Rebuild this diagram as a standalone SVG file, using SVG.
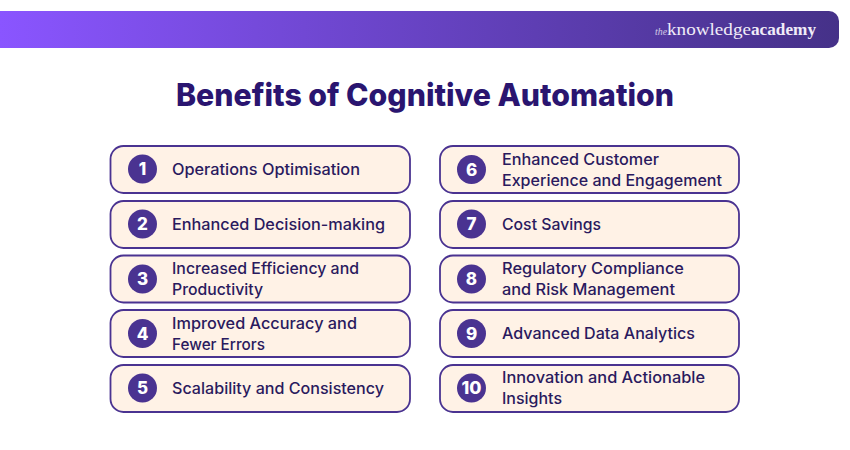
<svg xmlns="http://www.w3.org/2000/svg" width="850" height="450" viewBox="0 0 850 450">
<style>
.box{fill:#fff2e6;stroke:#4a3391;stroke-width:1.8}
.dot{fill:#4a3391}
.num{font:800 17px Inter,"Liberation Sans",sans-serif;fill:#fff;text-anchor:middle}
.t{font:500 15.500px Inter,"Liberation Sans",sans-serif;fill:#2a1a5e}
.title{font:800 31.500px Inter,"Liberation Sans",sans-serif;fill:#2a1570}
.logo{font-family:"Liberation Serif",serif;fill:#f0ecf8}
</style>
<defs><linearGradient id="g" x1="0" x2="1" y1="0" y2="0"><stop offset="0" stop-color="#8a55ff"/><stop offset="1" stop-color="#453188"/></linearGradient></defs>
<g id="banner"><path d="M0 11H829a10 10 0 0 1 10 10V38a10 10 0 0 1-10 10H0Z" fill="url(#g)"/>
<text class="logo" x="655" y="35" font-size="11" font-style="italic" textLength="12" lengthAdjust="spacingAndGlyphs" opacity=".8">the</text>
<text class="logo" x="667" y="35" font-size="17" textLength="84" lengthAdjust="spacingAndGlyphs">knowledge</text>
<text class="logo" x="751" y="35" font-size="17" font-weight="700" textLength="65" lengthAdjust="spacingAndGlyphs">academy</text></g>
<text id="title" class="title" x="176" y="105.500" textLength="498" lengthAdjust="spacingAndGlyphs">Benefits of Cognitive Automation</text>
<g id="n1"><rect class="box" x="110.500" y="146" width="299.500" height="47" rx="13"/><circle class="dot" cx="142.500" cy="169" r="14.500"/><text class="num" x="142.500" y="175">1</text><text class="t" x="172" y="174.500" textLength="188" lengthAdjust="spacingAndGlyphs">Operations Optimisation</text></g>
<g id="n2"><rect class="box" x="110.500" y="201" width="299.500" height="47" rx="13"/><circle class="dot" cx="142.500" cy="224" r="14.500"/><text class="num" x="142.500" y="230">2</text><text class="t" x="172" y="229.500" textLength="213" lengthAdjust="spacingAndGlyphs">Enhanced Decision-making</text></g>
<g id="n3"><rect class="box" x="110.500" y="255.500" width="299.500" height="47" rx="13"/><circle class="dot" cx="142.500" cy="279" r="14.500"/><text class="num" x="142.500" y="285">3</text><text class="t" x="172" y="273.500" textLength="187" lengthAdjust="spacingAndGlyphs">Increased Efficiency and</text><text class="t" x="172" y="294.500" textLength="91" lengthAdjust="spacingAndGlyphs">Productivity</text></g>
<g id="n4"><rect class="box" x="110.500" y="310" width="299.500" height="47" rx="13"/><circle class="dot" cx="142.500" cy="333.500" r="14.500"/><text class="num" x="142.500" y="339.500">4</text><text class="t" x="172" y="328.500" textLength="185" lengthAdjust="spacingAndGlyphs">Improved Accuracy and</text><text class="t" x="172" y="349.500" textLength="93" lengthAdjust="spacingAndGlyphs">Fewer Errors</text></g>
<g id="n5"><rect class="box" x="110.500" y="365" width="299.500" height="47" rx="13"/><circle class="dot" cx="142.500" cy="388" r="14.500"/><text class="num" x="142.500" y="394">5</text><text class="t" x="172" y="393.500" textLength="212" lengthAdjust="spacingAndGlyphs">Scalability and Consistency</text></g>
<g id="n6"><rect class="box" x="440" y="146" width="299" height="47" rx="13"/><circle class="dot" cx="471.500" cy="169.500" r="14.500"/><text class="num" x="471.500" y="175.500">6</text><text class="t" x="502" y="164.500" textLength="157" lengthAdjust="spacingAndGlyphs">Enhanced Customer</text><text class="t" x="502" y="185.500" textLength="220" lengthAdjust="spacingAndGlyphs">Experience and Engagement</text></g>
<g id="n7"><rect class="box" x="440" y="201" width="299" height="47" rx="13"/><circle class="dot" cx="471.500" cy="224" r="14.500"/><text class="num" x="471.500" y="230">7</text><text class="t" x="502" y="229.500" textLength="99" lengthAdjust="spacingAndGlyphs">Cost Savings</text></g>
<g id="n8"><rect class="box" x="440" y="255.500" width="299" height="47" rx="13"/><circle class="dot" cx="471.500" cy="279" r="14.500"/><text class="num" x="471.500" y="285">8</text><text class="t" x="502" y="273.500" textLength="182" lengthAdjust="spacingAndGlyphs">Regulatory Compliance</text><text class="t" x="502" y="294.500" textLength="173" lengthAdjust="spacingAndGlyphs">and Risk Management</text></g>
<g id="n9"><rect class="box" x="440" y="310" width="299" height="47" rx="13"/><circle class="dot" cx="471.500" cy="333.500" r="14.500"/><text class="num" x="471.500" y="339.500">9</text><text class="t" x="502" y="338.500" textLength="193" lengthAdjust="spacingAndGlyphs">Advanced Data Analytics</text></g>
<g id="n10"><rect class="box" x="440" y="365" width="299" height="47" rx="13"/><circle class="dot" cx="471.500" cy="388" r="14.500"/><text class="num" x="471.500" y="394" textLength="20" lengthAdjust="spacingAndGlyphs">10</text><text class="t" x="502" y="382.500" textLength="203" lengthAdjust="spacingAndGlyphs">Innovation and Actionable</text><text class="t" x="502" y="403.500" textLength="60" lengthAdjust="spacingAndGlyphs">Insights</text></g>
<g id="connectors"/>
</svg>
